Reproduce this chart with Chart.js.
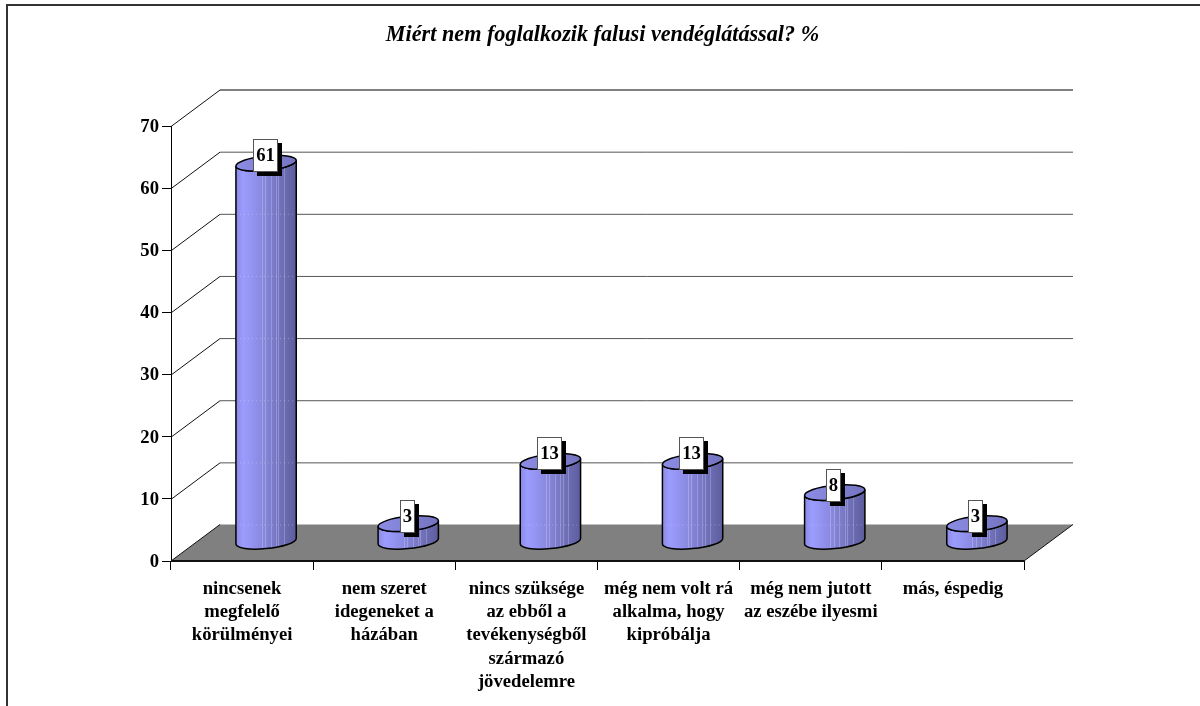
<!DOCTYPE html>
<html>
<head>
<meta charset="utf-8">
<style>
  html, body { margin: 0; padding: 0; background: #fff; }
  canvas { display: block; }
</style>
<script src="https://cdn.jsdelivr.net/npm/chart.js@4"></script>
</head>
<body>
<canvas id="cylinderChart" width="1200" height="706"></canvas>
<script>
const titleText = "Miért nem foglalkozik falusi vendéglátással? %";
const categories = [
  ["nincsenek", "megfelelő", "körülményei"],
  ["nem szeret", "idegeneket a", "házában"],
  ["nincs szüksége", "az ebből a", "tevékenységből", "származó", "jövedelemre"],
  ["még nem volt rá", "alkalma, hogy", "kipróbálja"],
  ["még nem jutott", "az eszébe ilyesmi"],
  ["más, éspedig"]
];
const percentValues = [61, 3, 13, 13, 8, 3];
const yTicks = [0, 10, 20, 30, 40, 50, 60, 70];

const FONT = "'Liberation Serif', 'Times New Roman', serif";
const FONT_SIZE = 18.67;
const TITLE_SIZE = 22.2;

// oblique offset of the back wall
const DEPTH_X = 49;
const DEPTH_Y = 36.5;
const RX = 30.3, RY = 7.3, TILT = -0.1;
const stripes = [25.7, 29, 34.7, 40, 42.3, 48];

function wallsAndFloor(chart) {
  const { ctx, chartArea: a, scales } = chart;
  ctx.save();
  ctx.lineWidth = 1;
  yTicks.slice(1).forEach(v => {
    const y = scales.y.getPixelForValue(v);
    ctx.strokeStyle = "#111";
    ctx.beginPath();
    ctx.moveTo(a.left, y + 0.5);
    ctx.lineTo(a.left + DEPTH_X, y - DEPTH_Y + 0.5);
    ctx.stroke();
    ctx.strokeStyle = v === 70 ? "#808080" : "#555";
    ctx.lineWidth = v === 70 ? 2 : 1;
    ctx.beginPath();
    ctx.moveTo(a.left + DEPTH_X, y - DEPTH_Y + 0.5);
    ctx.lineTo(a.right + DEPTH_X, y - DEPTH_Y + 0.5);
    ctx.stroke();
    ctx.lineWidth = 1;
  });
  ctx.fillStyle = "#808080";
  ctx.beginPath();
  ctx.moveTo(a.left, a.bottom);
  ctx.lineTo(a.left + DEPTH_X, a.bottom - DEPTH_Y);
  ctx.lineTo(a.right + DEPTH_X, a.bottom - DEPTH_Y);
  ctx.lineTo(a.right, a.bottom);
  ctx.closePath();
  ctx.fill();
  ctx.strokeStyle = "#111";
  ctx.beginPath();
  ctx.moveTo(a.left, a.bottom);
  ctx.lineTo(a.left + DEPTH_X, a.bottom - DEPTH_Y);
  ctx.moveTo(a.right, a.bottom);
  ctx.lineTo(a.right + DEPTH_X, a.bottom - DEPTH_Y);
  ctx.stroke();
  ctx.lineWidth = 2;
  ctx.beginPath();
  ctx.moveTo(a.left, a.bottom);
  ctx.lineTo(a.right, a.bottom);
  ctx.stroke();
  ctx.restore();
}

function drawCylinder(chart, bar) {
  const { ctx, scales } = chart;
  const cx = bar.x + DEPTH_X / 2 - 0.5;
  const top = bar.y - DEPTH_Y / 2 - 0.5;
  const bottom = bar.base - DEPTH_Y / 2 - 1;
  // where the sides touch the tilted ellipse
  const t0 = Math.atan2(-RY * Math.sin(TILT), RX * Math.cos(TILT));
  const edgeX = Math.hypot(RX * Math.cos(TILT), RY * Math.sin(TILT));

  const grad = ctx.createLinearGradient(cx - edgeX, 0, cx + edgeX, 0);
  grad.addColorStop(0, "#8a8ae4");
  grad.addColorStop(0.12, "#9c9cff");
  grad.addColorStop(0.45, "#8888de");
  grad.addColorStop(0.8, "#6c6cb4");
  grad.addColorStop(1, "#5c5c9c");

  const body = new Path2D();
  body.ellipse(cx, top, RX, RY, TILT, t0, t0 + Math.PI, false);
  body.ellipse(cx, bottom, RX, RY, TILT, t0 + Math.PI, t0, true);
  body.closePath();

  ctx.save();
  ctx.fillStyle = grad;
  ctx.fill(body);

  ctx.save();
  ctx.clip(body);
  ctx.lineWidth = 1;
  ctx.strokeStyle = "rgba(255,255,255,0.22)";
  stripes.forEach(dx => {
    ctx.beginPath();
    ctx.moveTo(Math.round(cx - edgeX + dx) + 0.5, top);
    ctx.lineTo(Math.round(cx - edgeX + dx) + 0.5, bottom + RY);
    ctx.stroke();
  });
  // grid lines faintly showing through
  ctx.setLineDash([1, 3]);
  ctx.strokeStyle = "rgba(235,235,255,0.35)";
  yTicks.slice(0, -1).forEach(v => {
    const y = scales.y.getPixelForValue(v) - DEPTH_Y + 0.5;
    ctx.beginPath();
    ctx.moveTo(cx - edgeX, y);
    ctx.lineTo(cx + edgeX, y);
    ctx.stroke();
  });
  ctx.restore();

  ctx.strokeStyle = "#000";
  ctx.lineWidth = 1.5;
  ctx.stroke(body);

  const capGrad = ctx.createLinearGradient(cx - edgeX, 0, cx + edgeX, 0);
  capGrad.addColorStop(0, "#8c8ce6");
  capGrad.addColorStop(1, "#7474c0");
  ctx.beginPath();
  ctx.ellipse(cx, top, RX, RY, TILT, 0, Math.PI * 2);
  ctx.fillStyle = capGrad;
  ctx.fill();
  ctx.stroke();
  ctx.restore();
}

function drawValueLabel(chart, bar, value) {
  const { ctx } = chart;
  const cx = bar.x + DEPTH_X / 2 - 1.5;
  const cy = bar.y - DEPTH_Y / 2 - 8;
  ctx.save();
  ctx.font = "bold " + FONT_SIZE + "px " + FONT;
  const w = Math.round(ctx.measureText(String(value)).width) + 6;
  const h = 33;
  const x = Math.round(cx - w / 2);
  const y = Math.round(cy - h / 2);
  ctx.fillStyle = "#000";
  ctx.fillRect(x + 4, y + 4, w, h);
  ctx.fillStyle = "#fff";
  ctx.fillRect(x, y, w, h);
  ctx.strokeStyle = "#555";
  ctx.lineWidth = 1;
  ctx.strokeRect(x + 0.5, y + 0.5, w - 1, h - 1);
  ctx.fillStyle = "#000";
  ctx.textAlign = "center";
  ctx.textBaseline = "middle";
  ctx.fillText(String(value), x + w / 2, y + h / 2 + 1);
  ctx.restore();
}

const cylinderPlugin = {
  id: "cylinders",
  beforeDraw(chart) {
    const { ctx } = chart;
    ctx.save();
    ctx.fillStyle = "#fff";
    ctx.fillRect(0, 0, chart.width, chart.height);
    ctx.strokeStyle = "#333";
    ctx.lineWidth = 2;
    ctx.beginPath();
    ctx.moveTo(7, chart.height);
    ctx.lineTo(7, 5);
    ctx.lineTo(chart.width, 5);
    ctx.stroke();
    ctx.restore();
  },
  beforeDatasetsDraw(chart) {
    wallsAndFloor(chart);
  },
  afterDatasetsDraw(chart) {
    const bars = chart.getDatasetMeta(0).data;
    bars.forEach(bar => drawCylinder(chart, bar));
    bars.forEach((bar, i) => drawValueLabel(chart, bar, percentValues[i]));
  }
};

new Chart(document.getElementById("cylinderChart"), {
  type: "bar",
  data: {
    labels: categories,
    datasets: [{
      data: percentValues,
      backgroundColor: "rgba(0,0,0,0)",
      borderWidth: 0
    }]
  },
  options: {
    responsive: false,
    animation: false,
    layout: { padding: { left: 5 } },
    plugins: {
      legend: { display: false },
      tooltip: { enabled: false },
      title: {
        display: true,
        text: titleText,
        color: "#000",
        font: { family: FONT, size: TITLE_SIZE, weight: "bold", style: "italic", lineHeight: 1.2 },
        padding: { top: 22, bottom: 77.4 }
      }
    },
    scales: {
      x: {
        grid: { drawOnChartArea: false, color: "#000", tickLength: 9 },
        border: { display: false },
        ticks: {
          color: "#000",
          padding: 8,
          maxRotation: 0,
          autoSkip: false,
          font: { family: FONT, size: FONT_SIZE, weight: "bold", lineHeight: 1.235 }
        },
        afterFit: scale => { scale.height = 145; }
      },
      y: {
        min: 0,
        max: 70,
        grid: { drawOnChartArea: false, color: "#000", tickLength: 9 },
        border: { color: "#000", width: 1 },
        ticks: {
          color: "#000",
          stepSize: 10,
          padding: 3,
          labelOffset: 1,
          font: { family: FONT, size: FONT_SIZE, weight: "bold" }
        },
        afterFit: scale => { scale.width = 166; }
      },
      yBack: {
        position: "right",
        axis: "y",
        grid: { display: false },
        border: { display: false },
        ticks: { display: false },
        afterFit: scale => { scale.width = 176; }
      }
    }
  },
  plugins: [cylinderPlugin]
});
</script>
</body>
</html>
